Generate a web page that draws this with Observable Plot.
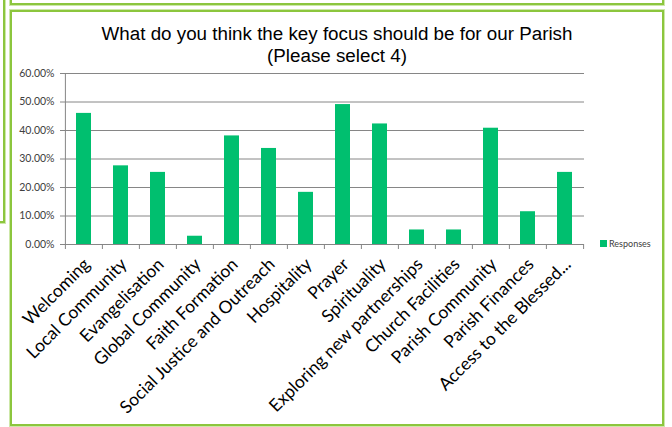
<!DOCTYPE html>
<html>
<head>
<meta charset="utf-8">
<script src="https://cdn.jsdelivr.net/npm/d3@7"></script>
<script src="https://cdn.jsdelivr.net/npm/@observablehq/plot@0.6"></script>
<style>
  html, body { margin: 0; padding: 0; background: #fff; }
  #wrap { position: relative; width: 672px; height: 427px; overflow: hidden; background: #fff; }
  .box { position: absolute; border: 2px solid #8CC63E; box-shadow: 0 0 0 1px #CDE8A8; box-sizing: border-box; }
  #title { position: absolute; left: 12px; width: 650px; top: 23px; text-align: center;
           font-family: "Liberation Sans", Arial, sans-serif; font-size: 18.8px; line-height: 22px; color: #000; }
  #legend { position: absolute; left: 600px; top: 238px; font-family: Lato, sans-serif; font-size: 9px; color: #404040; display: flex; align-items: center; }
  #legend span.sw { display: inline-block; width: 7px; height: 7px; background: #00BF6F; margin-right: 2px; }
  #chart { position: absolute; left: 0; top: 0; }
</style>
</head>
<body>
<div id="wrap">
  <div class="box" style="left:10px; top:-10px; width:654px; height:15px;"></div>
  <div class="box" style="left:-10px; top:-10px; width:15px; height:233px;"></div>
  <div class="box" style="left:10px; top:10px; width:654px; height:416px;"></div>
  <div id="chart"></div>
  <div id="title">What do you think the key focus should be for our Parish<br>(Please select 4)</div>
  <div id="legend"><span class="sw"></span>Responses</div>
</div>
<script>
const categories = ["Welcoming","Local Community","Evangelisation","Global Community","Faith Formation","Social Justice and Outreach","Hospitality","Prayer","Spirituality","Exploring new partnerships","Church Facilities","Parish Community","Parish Finances","Access to the Blessed..."];
const responses = [46.0, 27.6, 25.3, 2.9, 38.1, 33.7, 18.3, 49.1, 42.3, 5.1, 5.1, 40.8, 11.5, 25.3];
const yTicks = [0, 10, 20, 30, 40, 50, 60];

const data = categories.map((c, i) => ({category: c, value: responses[i]}));

const W = 672, H = 427, mL = 63, mR = 88, mT = 73, mB = 183;
const step = (W - mL - mR) / categories.length;
const grey = "#868686";

const chart = Plot.plot({
  width: W, height: H,
  marginLeft: mL, marginRight: mR, marginTop: mT, marginBottom: mB,
  style: {fontFamily: "Lato, sans-serif", background: "transparent", overflow: "visible"},
  x: {type: "band", domain: categories, padding: 0, axis: null},
  y: {domain: [0, 60], axis: null},
  marks: [
    Plot.gridY(yTicks, {stroke: grey, strokeOpacity: 1}),
    Plot.axisY(yTicks, {tickSize: 3, tickPadding: 6, stroke: grey, fill: "#404040", fontSize: 10.5,
      tickFormat: d => d.toFixed(2) + "%", label: null}),
    Plot.ruleX([categories[0]], {dx: -step / 2, stroke: grey}),
    Plot.barY(data, {x: "category", y: "value", fill: "#00BF6F", insetLeft: 11, insetRight: 11}),
    Plot.axisX(categories, {tickSize: 5, dx: -step / 2, stroke: grey, tickFormat: () => "", label: null}),
    Plot.axisX([categories[categories.length - 1]], {tickSize: 5, dx: step / 2, stroke: grey, tickFormat: () => "", label: null}),
    Plot.axisX(categories, {tickSize: 0, tickRotate: -45, tickPadding: 17, dx: 3, fontSize: 17.5, fill: "#000", label: null})
  ]
});
document.getElementById("chart").appendChild(chart);
</script>
</body>
</html>
